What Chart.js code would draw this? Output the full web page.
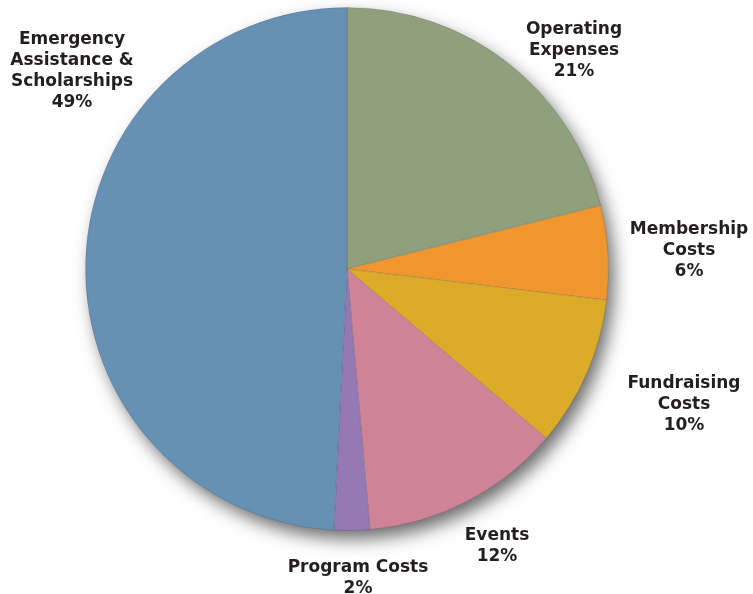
<!DOCTYPE html>
<html>
<head>
<meta charset="utf-8">
<script src="https://cdn.jsdelivr.net/npm/chart.js@4/dist/chart.umd.min.js"></script>
<style>
  html, body { margin: 0; padding: 0; background: #fff; }
  #wrap { width: 753px; height: 594px; }
</style>
</head>
<body>
<div id="wrap"><canvas id="pie"></canvas></div>
<script>
// data, clockwise from 12 o'clock
const categories = ['Operating Expenses', 'Membership Costs', 'Fundraising Costs', 'Events', 'Program Costs', 'Emergency Assistance & Scholarships'];
// slice sizes as drawn in the picture
const sliceValues = [21.1, 5.8, 9.3, 12.4, 2.2, 49.2];
// percentages as printed on the labels
const labelPercents = ['21%', '6%', '10%', '12%', '2%', '49%'];
const sliceColors = ['#909f7c', '#ef962e', '#dcab2a', '#cf8396', '#9479b4', '#6790b5'];

// how each label breaks into lines, and where it sits
const labelLines = [
    ['Operating', 'Expenses'],
    ['Membership', 'Costs'],
    ['Fundraising', 'Costs'],
    ['Events'],
    ['Program Costs'],
    ['Emergency', 'Assistance &', 'Scholarships']
];
const labelAnchors = [[574, 30], [689, 230], [684, 384], [497, 536], [358, 568], [72, 40]];

const ctx = document.getElementById('pie').getContext('2d');

// soft shadow under the pie
const pieShadow = {
    id: 'pieShadow',
    beforeDatasetsDraw(chart) {
        const arc = chart.getDatasetMeta(0).data[0];
        if (!arc) return;
        const c = chart.ctx;
        c.save();
        c.shadowColor = 'rgba(0,0,0,0.6)';
        c.shadowBlur = 18;
        c.shadowOffsetX = 6;
        c.shadowOffsetY = 9;
        c.beginPath();
        c.arc(arc.x, arc.y, arc.outerRadius - 1, 0, Math.PI * 2);
        c.fillStyle = '#ffffff';
        c.fill();
        c.restore();
    }
};

// outside labels
const outsideLabels = {
    id: 'outsideLabels',
    afterDraw(chart) {
        const c = chart.ctx;
        c.save();
        c.font = 'bold 17px "DejaVu Sans", sans-serif';
        c.fillStyle = '#231f20';
        c.textAlign = 'center';
        c.textBaseline = 'middle';
        labelLines.forEach((lines, i) => {
            const [x, y] = labelAnchors[i];
            const all = lines.concat([labelPercents[i]]);
            all.forEach((t, j) => c.fillText(t, x, y + j * 21));
        });
        c.restore();
    }
};

new Chart(ctx, {
    type: 'pie',
    data: {
        labels: categories,
        datasets: [{
            data: sliceValues,
            backgroundColor: sliceColors,
            borderColor: 'rgba(40,50,60,0.18)',
            borderWidth: 1
        }]
    },
    options: {
        responsive: true,
        maintainAspectRatio: false,
        animation: false,
        layout: {
            padding: { left: 85, right: 144, top: 7, bottom: 63 }
        },
        plugins: {
            legend: { display: false },
            tooltip: { enabled: false }
        }
    },
    plugins: [pieShadow, outsideLabels]
});
</script>
</body>
</html>
